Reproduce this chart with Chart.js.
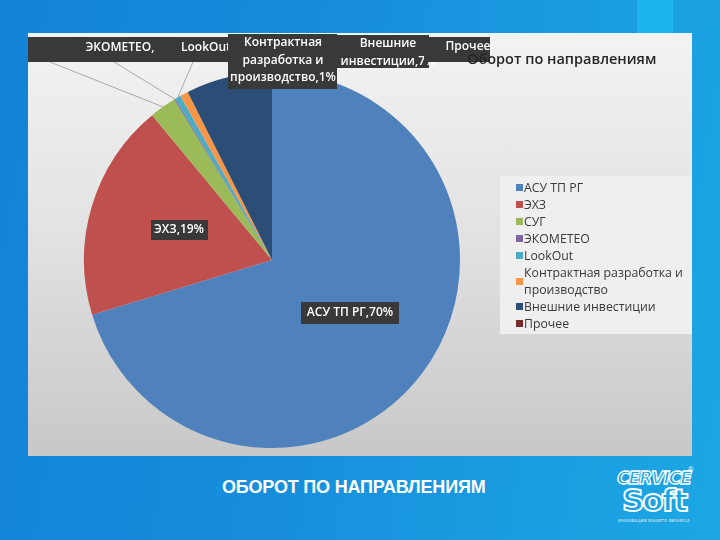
<!DOCTYPE html>
<html>
<head>
<meta charset="utf-8">
<script src="https://cdn.jsdelivr.net/npm/chart.js@4.4.0/dist/chart.umd.min.js"></script>
<style>
    body {
        margin: 0;
        width: 720px;
        height: 540px;
        overflow: hidden;
        position: relative;
        background: linear-gradient(100deg, #1382d6 0%, #178fdc 45%, #1ca7e4 100%);
        font-family: "Open Sans", sans-serif;
    }
    .corner { position: absolute; left: 637px; top: 0; width: 36px; height: 33px; background: #1db3ee; }
    .panel {
        position: absolute; left: 28px; top: 33px; width: 664px; height: 423px;
        background: linear-gradient(to bottom, #f3f3f3 0%, #e3e3e3 45%, #c8c8c8 100%);
    }
    .legend-bg { position: absolute; left: 500px; top: 176px; width: 192px; height: 158px; background: #efefef; }
    #chart { position: absolute; left: 28px; top: 33px; }
    .chart-title {
        position: absolute; left: 467px; top: 49px;
        font: 600 14.5px "Open Sans", sans-serif; color: #262626; white-space: nowrap;
    }
    #legend { position: absolute; left: 516px; top: 179px; width: 176px; }
    .legend-item { display: flex; align-items: center; font-size: 12.3px; line-height: 17px; color: #3a3a3a; }
    .legend-box { width: 7px; height: 7px; flex: none; margin-right: 1px; }
    .legend-text { width: 168px; }
    .slide-title {
        position: absolute; left: 222px; top: 477px;
        font: bold 18px "Liberation Sans", Arial, sans-serif; color: #fff; letter-spacing: -0.2px;
    }
    .logo { position: absolute; left: 614px; top: 470px; width: 80px; color: #fff; text-align: center; }
    .logo .l1 { font: italic bold 17px "DejaVu Sans", sans-serif; letter-spacing: -1px; line-height: 17px;
        color: transparent; -webkit-text-stroke: 1.3px #fff; }
    .logo .l2 { font: bold 31px "DejaVu Sans", sans-serif; letter-spacing: -2px; line-height: 27px;
        color: transparent; -webkit-text-stroke: 1.8px #fff; }
    .logo .l3 { font: 4px "DejaVu Sans", sans-serif; margin-top: 4px; letter-spacing: 0.2px; opacity: 0.9; }
    .logo .reg { position: absolute; left: 74px; top: -4px; font: 7px sans-serif; }
</style>
</head>
<body>
<div class="corner"></div>
<div class="panel"></div>
<div class="legend-bg"></div>
<canvas id="chart" width="664" height="423"></canvas>
<div class="chart-title">Оборот по направлениям</div>
<div id="legend"></div>
<div class="slide-title">ОБОРОТ ПО НАПРАВЛЕНИЯМ</div>
<div class="logo">
    <div class="l1">CERVICE</div>
    <div class="l2">Soft</div>
    <div class="l3">ИННОВАЦИИ ВАШЕГО БИЗНЕСА</div>
    <span class="reg">®</span>
</div>

<script>
// Turnover by business line, share of total (%)
const categories = [
    'АСУ ТП РГ',
    'ЭХЗ',
    'СУГ',
    'ЭКОМЕТЕО',
    'LookOut',
    'Контрактная разработка и производство',
    'Внешние инвестиции',
    'Прочее'
];
const shares = [70.3, 18.7, 2.3, 0.1, 0.5, 0.7, 7.4, 0];

// Data label text per slice, as printed on the slide
const sliceLabels = [
    ['АСУ ТП РГ,70%'],
    ['ЭХЗ,19%'],
    ['СУГ,2%'],
    ['ЭКОМЕТЕО,'],
    ['LookOut,0%'],
    ['Контрактная', 'разработка и', 'производство,1%'],
    ['Внешние', 'инвестиции,7%'],
    ['Прочее']
];

const sliceColors = ['#4f81bd', '#c0504d', '#9bbb59', '#8064a2', '#4bacc6', '#f79646', '#2c4d75', '#772c2a'];

// Label boxes in canvas pixels: box rect, text anchor, leader line start
const labelLayout = [
    { box: [273, 269, 98, 22], text: [322, 280], align: 'center' },
    { box: [123, 187, 57, 20], text: [151, 197], align: 'center' },
    { box: [-90, 4, 162, 25], text: [-50, 15], align: 'center', leader: [22, 29] },
    { box: [50, 4, 100, 25], text: [92, 15], align: 'center', leader: [86, 29] },
    { box: [144, 4, 70, 25], text: [153, 15], align: 'left', leader: [165, 29] },
    { box: [200, 1, 109, 55], text: [255, 10], align: 'center' },
    { box: [309, 2, 92, 33], text: [360, 11], align: 'center' },
    { box: [396, 4, 66, 25], text: [440, 14], align: 'center' }
];

// Draw leader lines and dark label boxes like the Excel data callouts
const dataLabelPlugin = {
    id: 'dataLabelPlugin',
    afterDatasetsDraw(chart) {
        const ctx = chart.ctx;
        const arcs = chart.getDatasetMeta(0).data;
        ctx.save();

        // leader lines first
        ctx.strokeStyle = '#a9a9a9';
        ctx.lineWidth = 1;
        labelLayout.forEach((lay, i) => {
            if (!lay.leader) return;
            const p = arcs[i].getProps(['x', 'y', 'startAngle', 'endAngle', 'outerRadius'], true);
            const mid = (p.startAngle + p.endAngle) / 2;
            ctx.beginPath();
            ctx.moveTo(lay.leader[0], lay.leader[1]);
            ctx.lineTo(p.x + Math.cos(mid) * p.outerRadius, p.y + Math.sin(mid) * p.outerRadius);
            ctx.stroke();
        });

        // boxes and text
        ctx.font = '600 12px "Open Sans", sans-serif';
        ctx.textBaseline = 'middle';
        labelLayout.forEach((lay, i) => {
            ctx.fillStyle = '#393939';
            ctx.fillRect(lay.box[0], lay.box[1], lay.box[2], lay.box[3]);
            ctx.fillStyle = '#ffffff';
            ctx.textAlign = lay.align;
            sliceLabels[i].forEach((line, k) => {
                ctx.fillText(line, lay.text[0], lay.text[1] + k * 17.5);
            });
        });
        ctx.restore();
    }
};

new Chart(document.getElementById('chart'), {
    type: 'pie',
    data: {
        labels: categories,
        datasets: [{
            data: shares,
            backgroundColor: sliceColors,
            borderWidth: 0
        }]
    },
    options: {
        responsive: false,
        animation: false,
        layout: {
            padding: { left: 56, right: 232, top: 39, bottom: 8 }
        },
        plugins: {
            legend: { display: false },
            tooltip: { enabled: false }
        }
    },
    plugins: [dataLabelPlugin]
});

// HTML legend built from the same arrays
const legend = document.getElementById('legend');
categories.forEach((name, i) => {
    const item = document.createElement('div');
    item.className = 'legend-item';
    item.innerHTML = `<span class="legend-box" style="background:${sliceColors[i]}"></span><span class="legend-text">${name}</span>`;
    legend.appendChild(item);
});
</script>
</body>
</html>
